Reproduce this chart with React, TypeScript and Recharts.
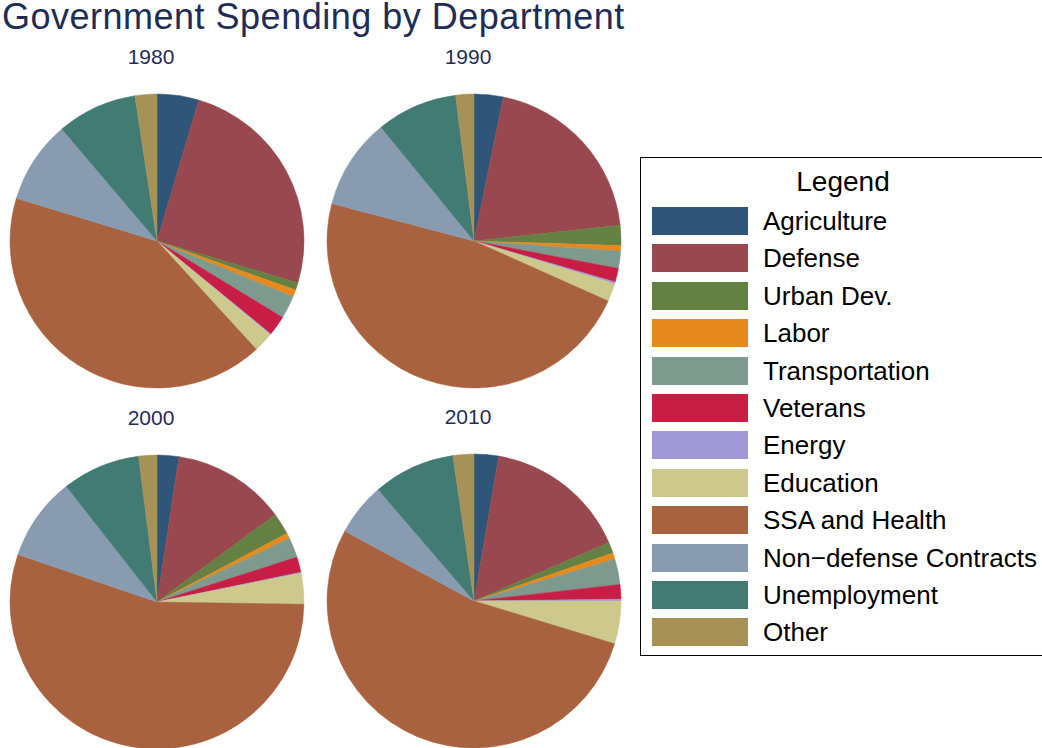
import React from 'react';
import { PieChart, Pie, Cell } from 'recharts';

const departments = [
  'Agriculture',
  'Defense',
  'Urban Dev.',
  'Labor',
  'Transportation',
  'Veterans',
  'Energy',
  'Education',
  'SSA and Health',
  'Non\u2212defense Contracts',
  'Unemployment',
  'Other',
];

const colors = [
  '#2f5679', '#98484e', '#648143', '#e68a1d', '#7e998e', '#c81e45',
  '#a199d6', '#cdc98d', '#a86240', '#889bb0', '#427b73', '#a69257',
];

const years = ['1980', '1990', '2000', '2010'];

// share of spending, percent
const values1980 = [4.6, 25.0, 0.8, 0.8, 2.5, 2.2, 0.1, 2.2, 41.5, 9.1, 8.8, 2.4];
const values1990 = [3.2, 20.1, 2.2, 0.6, 1.9, 1.5, 0.2, 2.0, 47.4, 10.0, 8.9, 2.0];
const values2000 = [2.4, 12.5, 2.4, 0.6, 2.2, 1.7, 0.1, 3.4, 55.1, 9.2, 8.6, 2.0];
const values2010 = [2.7, 15.8, 1.2, 0.7, 2.8, 1.6, 0.2, 4.7, 53.2, 5.8, 9.0, 2.3];

const allValues = [values1980, values1990, values2000, values2010];

const centers = [
  { cx: 157, cy: 241 },
  { cx: 474, cy: 241 },
  { cx: 157, cy: 602 },
  { cx: 474, cy: 601 },
];

const font = '"Liberation Sans", Arial, Helvetica, sans-serif';
const navy = '#1f2d56';

export default function App() {
  return (
    <div style={{ position: 'absolute', left: 0, top: 0, width: 1042, height: 748, overflow: 'hidden', background: '#fff', fontFamily: font }}>
      <div style={{ position: 'absolute', left: 2, top: 0, fontSize: 36, letterSpacing: 0.5, color: navy, whiteSpace: 'nowrap', lineHeight: '34px' }}>
        Government Spending by Department
      </div>
      {years.map((y, i) => (
        <div key={y} style={{ position: 'absolute', left: centers[i].cx - 66, width: 120, top: centers[i].cy - 196, textAlign: 'center', fontSize: 21, lineHeight: '24px', color: navy }}>
          {y}
        </div>
      ))}
      <div style={{ position: 'absolute', left: 0, top: 0 }}>
        <PieChart width={640} height={748} margin={{ top: 0, right: 0, bottom: 0, left: 0 }}>
          {allValues.map((vals, i) => (
            <Pie
              key={years[i]}
              data={departments.map((d, k) => ({ name: d, value: vals[k] }))}
              dataKey="value"
              nameKey="name"
              cx={centers[i].cx}
              cy={centers[i].cy}
              outerRadius={147}
              startAngle={90}
              endAngle={-270}
              isAnimationActive={false}
            >
              {departments.map((d, k) => (
                <Cell key={d} fill={colors[k]} stroke={colors[k]} strokeWidth={0.5} />
              ))}
            </Pie>
          ))}
        </PieChart>
      </div>
      <div style={{ position: 'absolute', left: 640, top: 157, width: 420, height: 499, border: '1px solid #000', boxSizing: 'border-box' }}>
        <div style={{ position: 'absolute', left: 0, width: 404, top: 8, textAlign: 'center', fontSize: 28, lineHeight: '32px', color: '#000' }}>Legend</div>
        {departments.map((d, k) => (
          <div key={d} style={{ position: 'absolute', left: 11, top: 49 + k * 37.4, height: 28, display: 'flex', alignItems: 'center' }}>
            <div style={{ width: 96, height: 28, background: colors[k] }} />
            <div style={{ marginLeft: 15, fontSize: 26, lineHeight: '30px', color: '#000', whiteSpace: 'nowrap' }}>{d}</div>
          </div>
        ))}
      </div>
    </div>
  );
}
